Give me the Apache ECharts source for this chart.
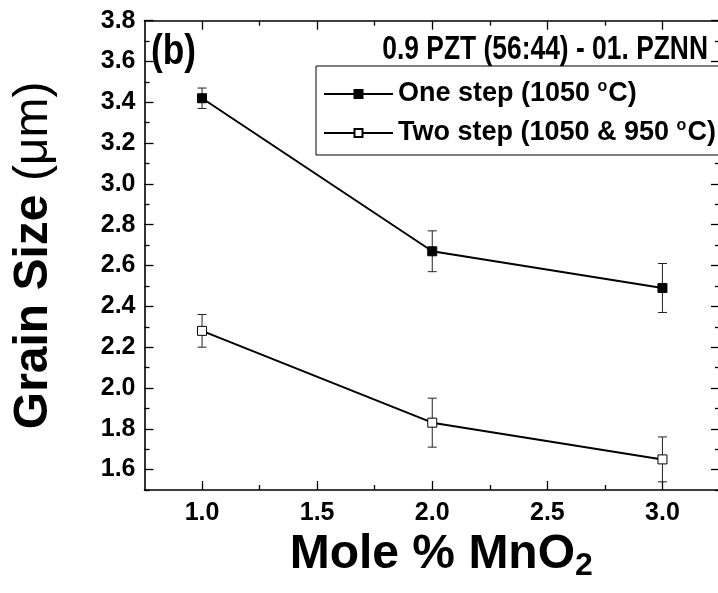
<!DOCTYPE html>
<html>
<head>
<meta charset="utf-8">
<script src="https://cdn.jsdelivr.net/npm/echarts@6/dist/echarts.min.js"></script>
<style>
  html, body { margin: 0; padding: 0; background: #fff; }
  #chart { width: 718px; height: 593px; }
</style>
</head>
<body>
<div id="chart"></div>
<script>
// MnO2 content (mole %)
const moleMnO2 = [1.0, 2.0, 3.0];
// Grain size (µm) and error half-widths
const oneStep = [3.42, 2.67, 2.49];
const oneStepErr = [0.05, 0.10, 0.12];
const twoStep = [2.28, 1.83, 1.65];
const twoStepErr = [0.08, 0.12, 0.11];
// Axis tick labels
const xMajorTicks = [1.0, 1.5, 2.0, 2.5, 3.0];
const xMinorTicks = [1.25, 1.75, 2.25, 2.75];
const yMajorTicks = [1.6, 1.8, 2.0, 2.2, 2.4, 2.6, 2.8, 3.0, 3.2, 3.4, 3.6, 3.8];
const yMinorTicks = [1.5, 1.7, 1.9, 2.1, 2.3, 2.5, 2.7, 2.9, 3.1, 3.3, 3.5, 3.7];

const seriesNames = ['One step (1050 °C)', 'Two step (1050 & 950 °C)'];

const SANS = "'Liberation Sans', Arial, sans-serif";

const chart = echarts.init(document.getElementById('chart'), null, { renderer: 'canvas' });

function frameAxis(kind, position, ticks, len, extra) {
  const isX = kind === 'x';
  return Object.assign({
    type: 'value',
    position: position,
    min: isX ? 0.75 : 1.5,
    max: isX ? 3.25 : 3.8,
    gridIndex: 0,
    axisLine: { show: true, onZero: false, lineStyle: { color: '#000', width: 1.6 } },
    axisTick: { show: true, inside: true, length: len, customValues: ticks, lineStyle: { color: '#000', width: 1.3 } },
    axisLabel: { show: false },
    splitLine: { show: false }
  }, extra || {});
}

function errorBars(values, errs) {
  return moleMnO2.map((x, i) => [x, values[i] - errs[i], values[i] + errs[i]]);
}

function renderErr(params, api) {
  const lo = api.coord([api.value(0), api.value(1)]);
  const hi = api.coord([api.value(0), api.value(2)]);
  const cap = 4.5;
  const style = { stroke: '#222', lineWidth: 1 };
  return {
    type: 'group',
    children: [
      { type: 'line', shape: { x1: lo[0], y1: lo[1], x2: hi[0], y2: hi[1] }, style: style },
      { type: 'line', shape: { x1: lo[0] - cap, y1: lo[1], x2: lo[0] + cap, y2: lo[1] }, style: style },
      { type: 'line', shape: { x1: hi[0] - cap, y1: hi[1], x2: hi[0] + cap, y2: hi[1] }, style: style }
    ]
  };
}

const option = {
  backgroundColor: '#fff',
  animation: false,
  // panel letter and composition label, set in a condensed bold face
  graphic: [
    {
      type: 'text', x: 151, y: 52, scaleX: 0.84, z: 10,
      style: {
        text: '(b)', fill: '#000', align: 'left', verticalAlign: 'middle',
        font: "bold 42px 'Liberation Sans', Arial, sans-serif"
      }
    },
    {
      type: 'text', x: 708, y: 50, scaleX: 0.8, z: 10,
      style: {
        text: '0.9 PZT (56:44) - 01. PZNN', fill: '#000', align: 'right', verticalAlign: 'middle',
        font: "bold 33px 'Liberation Sans', Arial, sans-serif"
      }
    }
  ],
  grid: { left: 144.5, right: -2, top: 20.7, bottom: 103, containLabel: false, outerBoundsMode: 'none' },
  legend: {
    orient: 'vertical',
    left: 316, top: 66,
    padding: [13, 24, 5, 7],
    itemGap: 7,
    itemWidth: 69, itemHeight: 10,
    borderColor: '#000', borderWidth: 1,
    backgroundColor: '#fff',
    data: seriesNames,
    formatter: name => name.replace('°', '{sup|o}'),
    textStyle: {
      fontFamily: SANS, fontWeight: 'bold', fontSize: 27, lineHeight: 30, color: '#000',
      rich: { sup: { fontFamily: SANS, fontWeight: 'bold', fontSize: 16, lineHeight: 30, verticalAlign: 'top', padding: [0, 1, 16, 0], color: '#000' } }
    }
  },
  xAxis: [
    frameAxis('x', 'bottom', xMajorTicks, 9, {
      axisLabel: {
        show: true, customValues: xMajorTicks, margin: 11,
        formatter: v => v.toFixed(1),
        fontFamily: SANS, fontWeight: 'bold', fontSize: 25, color: '#000'
      },
      name: '{b|Mole % MnO}{s|2}',
      nameLocation: 'middle', nameGap: 36,
      nameTextStyle: {
        padding: [0, 0, 0, 18],
        rich: {
          b: { fontFamily: SANS, fontWeight: 'bold', fontSize: 48, color: '#000' },
          s: { fontFamily: SANS, fontWeight: 'bold', fontSize: 32, color: '#000', padding: [22, 0, 0, 0] }
        }
      }
    }),
    frameAxis('x', 'bottom', xMinorTicks, 5, { axisLine: { show: false } }),
    frameAxis('x', 'top', xMajorTicks, 9),
    frameAxis('x', 'top', xMinorTicks, 5, { axisLine: { show: false } })
  ],
  yAxis: [
    frameAxis('y', 'left', yMajorTicks, 9, {
      axisLabel: {
        show: true, customValues: yMajorTicks, margin: 9,
        formatter: v => v.toFixed(1),
        fontFamily: SANS, fontWeight: 'bold', fontSize: 25, color: '#000'
      },
      name: '{b|Grain Size }{n|(μm)}',
      nameLocation: 'middle', nameGap: 87, nameRotate: 90,
      nameTextStyle: {
        rich: {
          b: { fontFamily: SANS, fontWeight: 'bold', fontSize: 48, color: '#000' },
          n: { fontFamily: SANS, fontWeight: 'normal', fontSize: 48, color: '#000' }
        }
      }
    }),
    frameAxis('y', 'left', yMinorTicks, 5, { axisLine: { show: false } }),
    frameAxis('y', 'right', yMajorTicks, 9),
    frameAxis('y', 'right', yMinorTicks, 5, { axisLine: { show: false } })
  ],
  series: [
    {
      type: 'custom', name: 'err1', renderItem: renderErr,
      data: errorBars(oneStep, oneStepErr), z: 1, silent: true
    },
    {
      type: 'custom', name: 'err2', renderItem: renderErr,
      data: errorBars(twoStep, twoStepErr), z: 1, silent: true
    },
    {
      name: seriesNames[0], type: 'line', z: 3,
      data: moleMnO2.map((x, i) => [x, oneStep[i]]),
      symbol: 'rect', symbolSize: 9,
      lineStyle: { color: '#000', width: 2 },
      itemStyle: { color: '#000', borderColor: '#000', borderWidth: 1 }
    },
    {
      name: seriesNames[1], type: 'line', z: 3,
      data: moleMnO2.map((x, i) => [x, twoStep[i]]),
      symbol: 'rect', symbolSize: 9,
      lineStyle: { color: '#000', width: 2 },
      itemStyle: { color: '#fff', borderColor: '#000', borderWidth: 1 }
    }
  ]
};

chart.setOption(option);
</script>
</body>
</html>
